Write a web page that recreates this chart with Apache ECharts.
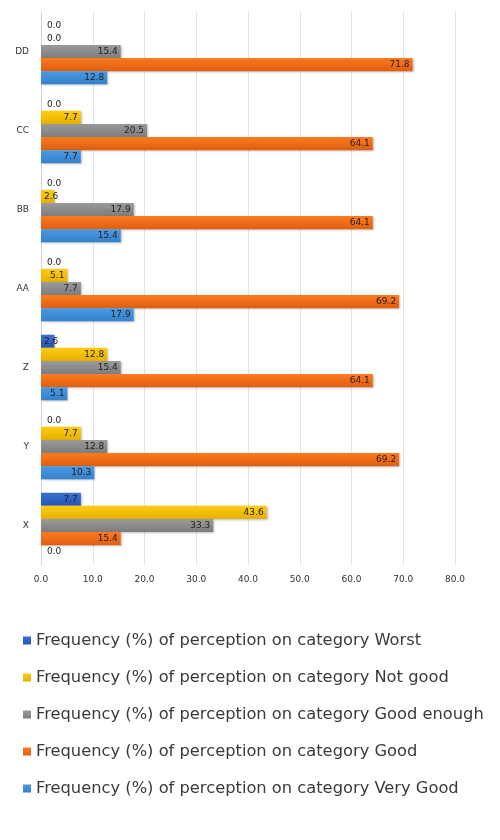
<!DOCTYPE html>
<html><head><meta charset="utf-8">
<script src="https://cdn.jsdelivr.net/npm/echarts@6/dist/echarts.min.js"></script>
<style>html,body{margin:0;padding:0;background:#fff}#c{width:500px;height:840px}</style>
</head><body><div id="c"></div>
<script>
const categories = ['X','Y','Z','AA','BB','CC','DD'];
const worst      = [7.7, 0.0, 2.6, 0.0, 0.0, 0.0, 0.0];
const notGood    = [43.6, 7.7, 12.8, 5.1, 2.6, 7.7, 0.0];
const goodEnough = [33.3, 12.8, 15.4, 7.7, 17.9, 20.5, 15.4];
const good       = [15.4, 69.2, 64.1, 69.2, 64.1, 64.1, 71.8];
const veryGood   = [0.0, 10.3, 5.1, 17.9, 15.4, 7.7, 12.8];
const xTicks = [0,10,20,30,40,50,60,70,80];

const names = {
  worst: 'Frequency (%) of perception on category Worst',
  notGood: 'Frequency (%) of perception on category Not good',
  goodEnough: 'Frequency (%) of perception on category Good enough',
  good: 'Frequency (%) of perception on category Good',
  veryGood: 'Frequency (%) of perception on category Very Good'
};
const colors = {
  worst: ['#3a6fd0','#2456b5'],
  notGood: ['#ffcc10','#e6b000'],
  goodEnough: ['#9a9a9a','#7d7d7d'],
  good: ['#ff7a1f','#de5f10'],
  veryGood: ['#4a9be3','#3480cc']
};
function mk(key, data){
  return {
    name: names[key], type: 'bar', data: data.map(v => ({
      value: v,
      label: { position: v < 3.5 ? 'insideLeft' : 'insideRight', distance: v < 1 ? 6 : 3 }
    })),
    barGap: '0%', barCategoryGap: '17%',
    itemStyle: {
      color: new echarts.graphic.LinearGradient(0,0,0,1,[{offset:0,color:colors[key][0]},{offset:1,color:colors[key][1]}]),
      shadowColor: 'rgba(0,0,0,0.25)', shadowBlur: 2, shadowOffsetX: 1, shadowOffsetY: 1
    },
    label: { show: true, formatter: p => p.value.toFixed(1), color: '#222', fontSize: 9, fontFamily: 'DejaVu Sans' }
  };
}
const chart = echarts.init(document.getElementById('c'));
chart.setOption({
  animation: false,
  grid: { left: 41, right: 45, top: 12, bottom: 275 },
  xAxis: {
    type: 'value', min: 0, max: 80, interval: 10,
    axisLabel: { formatter: v => v.toFixed(1), color: '#333', fontSize: 9, fontFamily: 'DejaVu Sans', margin: 10 },
    splitLine: { lineStyle: { color: '#dde2ec' } },
    axisLine: { show: false }, axisTick: { show: false }
  },
  yAxis: {
    type: 'category', data: categories,
    axisLabel: { color: '#333', fontSize: 9, fontFamily: 'DejaVu Sans', margin: 12 },
    axisLine: { show: true, lineStyle: { color: '#d0d4dc' } }, axisTick: { show: false }
  },
  legend: {
    orient: 'vertical', left: 18, top: 626, itemWidth: 8, itemHeight: 8, itemGap: 18,
    icon: 'rect',
    data: [names.worst, names.notGood, names.goodEnough, names.good, names.veryGood],
    textStyle: { fontSize: 16.3, color: '#3a3a3a', fontFamily: 'DejaVu Sans', lineHeight: 19, padding: [0,0,0,0] }
  },
  series: [
    mk('worst', worst),
    mk('notGood', notGood),
    mk('goodEnough', goodEnough),
    mk('good', good),
    mk('veryGood', veryGood)
  ]
});
</script></body></html>
